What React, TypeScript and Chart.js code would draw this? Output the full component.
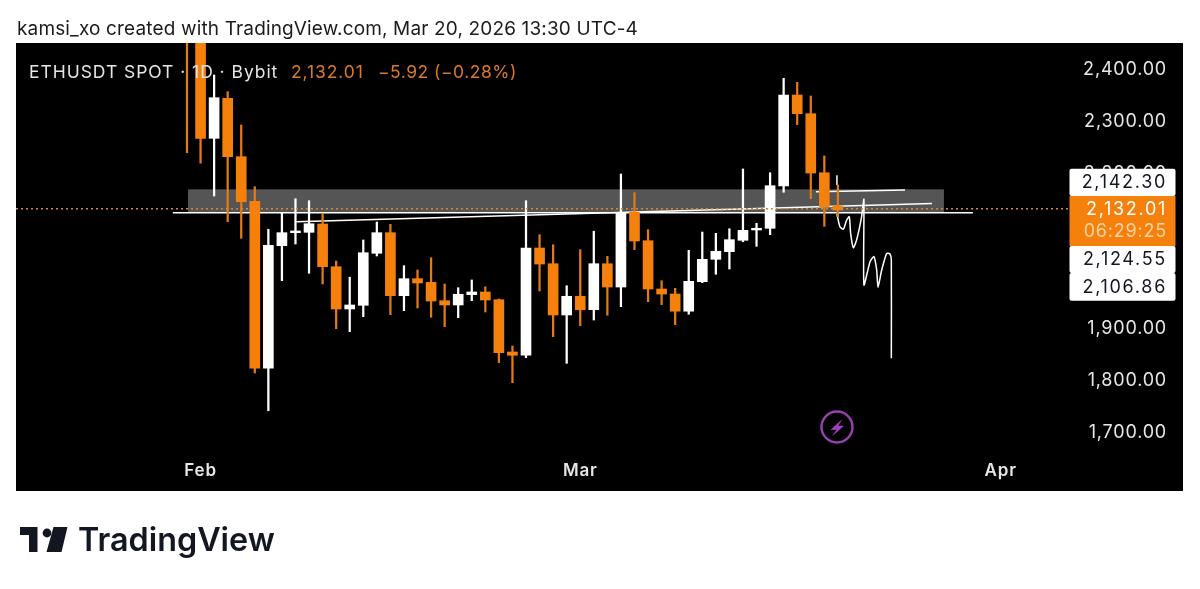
import React, { useEffect, useRef } from "react";
import { Chart, registerables } from "chart.js";

Chart.register(...registerables);

const dates = ["Jan 31","Feb 1","Feb 2","Feb 3","Feb 4","Feb 5","Feb 6","Feb 7","Feb 8","Feb 9","Feb 10","Feb 11","Feb 12","Feb 13","Feb 14","Feb 15","Feb 16","Feb 17","Feb 18","Feb 19","Feb 20","Feb 21","Feb 22","Feb 23","Feb 24","Feb 25","Feb 26","Feb 27","Feb 28","Mar 1","Mar 2","Mar 3","Mar 4","Mar 5","Mar 6","Mar 7","Mar 8","Mar 9","Mar 10","Mar 11","Mar 12","Mar 13","Mar 14","Mar 15","Mar 16","Mar 17","Mar 18","Mar 19","Mar 20"];
const opens = [2560,2480,2268.1,2345.3,2232.6,2146.5,1824.1,2060.8,2085.9,2086.6,2102.7,2020.2,1938.6,1945.7,2046.1,2085.9,1964.3,1997.1,1990.1,1954.6,1946.3,1966.2,1971.4,1956.5,1855.6,1849.2,2056.3,2026,1927,1963.1,1937.2,2026,1981,2125.2,2070.4,1977.2,1967.5,1934.3,1991.3,2034.5,2049.3,2071.2,2091.1,2094.4,2176,2351.7,2315.6,2201.7,2137.4];
const highs = [2600,2500,2390.3,2358.1,2293.8,2174.7,2092.4,2125.2,2151.5,2147.6,2123.3,2031.2,2000,2071.8,2106.5,2102.1,2022.2,2013.9,2037.6,1986.8,1979.7,1994.6,1981.6,1958,1867.1,2147.6,2082,2062.7,1983.5,2053.1,2088.6,2040.3,2199.2,2163.1,2091.7,1993.2,1978.5,2051.9,2087.2,2084.7,2093.6,2208.9,2104,2201.7,2384,2376.2,2349.8,2234,2178];
const lows = [2240.3,2220,2156.7,2107.1,2075.1,1815,1742.2,1993.2,2064,2007.5,1986.8,1900.6,1894.7,1923.7,2040.9,1927.6,1935.3,1940.5,1922.6,1904.4,1921.8,1954.6,1932.8,1834.9,1796.3,1844.6,1973.3,1885.1,1833.7,1906.3,1917.3,1926.4,1943,2053.1,1952.7,1946.9,1908.3,1928.4,1989.3,2005.6,2015.8,2068.5,2059.6,2082,2163.9,2294.4,2151.5,2098.2,2116.8];
const closes = [2480,2268.1,2346.5,2232.6,2145.7,1824.1,2061.6,2085.9,2089.2,2103.2,2020.2,1938.6,1946.3,2047.2,2085.9,1964.3,1997.1,1988.8,1954,1946.3,1967,1971.4,1955.9,1854.2,1849.2,2056.3,2025.4,1927,1963.1,1937.2,2026,1981,2125.2,2069.9,1977.2,1967.5,1934.3,1992,2034.5,2050,2072.4,2090.5,2094.4,2176.6,2351.7,2315.6,2201.1,2136.1,2129.7];

const priceTicks = [1700,1800,1900,2000,2100,2200,2300,2400];
const monthLabels = ["Feb","Mar","Apr"];
const monthDays = [0,28,59];

const lastPrice = 2132.01;
const supportLevel = 2124.55;
const trendDays = [7.04,53.94];
const trendPrices = [2106.86,2142.3];
const upperDays = [45.38,51.95];
const upperPrices = [2165,2168.3];
const stubDays = [46.93,46.93];
const stubPrices = [2196.7,2178];
const squiggleDays = [46.93,47.15,47.4,47.65,47.84,47.94,48.14,48.38,48.75,48.92,48.92,49.37,49.66,49.86,49.96,50.23,50.6,50.84,50.94,50.94];
const squigglePrices = [2122,2097.5,2092.4,2110.4,2116.8,2084.7,2056.9,2071.8,2116.8,2150.3,1985,2029.9,2039.6,2013.9,1980.4,2013.9,2046.1,2044.8,2033.2,1843.4];
const zoneDays = [-0.93,54.82];
const zonePrices = [2123.9,2169.6];

const tags = [
  { text: "2,142.30", top: 168.7, bottom: 196 },
  { text: "2,124.55", top: 246, bottom: 273 },
  { text: "2,106.86", top: 273, bottom: 300.7 },
];

const ORANGE = "#F6800C";
const WICK_ORANGE = "#E47A16";
const FONT = "Inter, 'Noto Sans', sans-serif";

const paneplugin = {
  id: "pane",
  beforeDraw(chart: any) {
    const { ctx, chartArea: a } = chart;
    ctx.save();
    ctx.fillStyle = "#000";
    ctx.fillRect(a.left, a.top, a.right - a.left, a.bottom - a.top);
    ctx.restore();
    ctx.letterSpacing = "0.8px";
  },
  beforeDatasetsDraw(chart: any) {
    const { ctx, scales } = chart;
    const x0 = scales.x.getPixelForValue(zoneDays[0]);
    const x1 = scales.x.getPixelForValue(zoneDays[1]);
    const y0 = scales.y.getPixelForValue(zonePrices[1]);
    const y1 = scales.y.getPixelForValue(zonePrices[0]);
    ctx.save();
    ctx.fillStyle = "#555555";
    ctx.fillRect(x0, y0, x1 - x0, y1 - y0);
    ctx.restore();
  },
  afterDraw(chart: any) {
    const { ctx } = chart;
    ctx.save();
    // legend line
    ctx.textBaseline = "middle";
    ctx.textAlign = "left";
    ctx.letterSpacing = "0.95px";
    ctx.font = `400 17.5px ${FONT}`;
    ctx.fillStyle = "#E6E6E6";
    ctx.fillText("ETHUSDT SPOT · 1D · Bybit", 29, 72.5);
    ctx.fillStyle = "#DB7A2A";
    ctx.letterSpacing = "0.9px";
    ctx.fillText("2,132.01", 291, 72.5);
    ctx.letterSpacing = "0.5px";
    ctx.fillText("−5.92 (−0.28%)", 378, 72.5);

    // price tags
    const left = 1069.5, w = 106;
    ctx.letterSpacing = "1.7px";
    ctx.font = `400 18px ${FONT}`;
    ctx.textAlign = "right";
    for (const t of tags) {
      ctx.fillStyle = "#fff";
      ctx.beginPath();
      ctx.roundRect(left, t.top, w, t.bottom - t.top, 2);
      ctx.fill();
      ctx.fillStyle = "#131722";
      ctx.fillText(t.text, 1167, (t.top + t.bottom) / 2 + 0.5);
    }
    ctx.fillStyle = ORANGE;
    ctx.fillRect(left, 196, w, 50);
    ctx.fillStyle = "#FFFFFF";
    ctx.fillText("2,132.01", 1167, 209.5);
    ctx.fillStyle = "#FFD3A3";
    ctx.letterSpacing = "0.8px";
    ctx.fillText("06:29:25", 1167, 232);

    // replay badge
    const cx = 837, cy = 427;
    ctx.strokeStyle = "#9A3FB0";
    ctx.lineWidth = 2.4;
    ctx.beginPath();
    ctx.arc(cx, cy, 15.5, 0, Math.PI * 2);
    ctx.stroke();
    ctx.fillStyle = "#A63EC4";
    ctx.beginPath();
    const bolt = [[5.5,-8],[-6.5,2.7],[-0.5,2.7],[-5,9.5],[7,-1.2],[1.2,-1.2]];
    bolt.forEach(([dx, dy], i) => (i ? ctx.lineTo(cx + dx, cy + dy) : ctx.moveTo(cx + dx, cy + dy)));
    ctx.closePath();
    ctx.fill();
    ctx.restore();
    ctx.letterSpacing = "0px";
  },
};

const zip = (xs: number[], ys: number[]) => xs.map((x, i) => ({ x, y: ys[i] }));
const lineDs = (data: any[], extra: any = {}) => ({
  type: "line",
  data,
  borderColor: "#FFFFFF",
  borderWidth: 1.5,
  pointRadius: 0,
  order: 3,
  ...extra,
});

export default function App() {
  const ref = useRef<HTMLCanvasElement>(null);
  useEffect(() => {
    const colours = closes.map((c, i) => (c < opens[i] ? ORANGE : "#FFFFFF"));
    const wickColours = closes.map((c, i) => (c < opens[i] ? WICK_ORANGE : "#FFFFFF"));
    const chart = new Chart(ref.current as HTMLCanvasElement, {
      type: "bar",
      data: {
        datasets: [
          lineDs(zip([-13.61, 64.04], [lastPrice, lastPrice]), { borderColor: "#D8843C", borderWidth: 1.4, borderDash: [2, 3], order: 0 }),
          {
            label: "body",
            data: dates.map((_, i) => ({ x: i - 1, y: [opens[i], closes[i]] })),
            backgroundColor: colours,
            barThickness: 10,
            grouped: false,
            order: 1,
          },
          {
            label: "wick",
            data: dates.map((_, i) => ({ x: i - 1, y: [lows[i], highs[i]] })),
            backgroundColor: wickColours,
            barThickness: 1.6,
            grouped: false,
            order: 2,
          },
          lineDs(zip([-2.04, 56.96], [supportLevel, supportLevel])),
          lineDs(zip(trendDays, trendPrices)),
          lineDs(zip(upperDays, upperPrices)),
          lineDs(zip(stubDays, stubPrices)),
          lineDs(zip(squiggleDays, squigglePrices), { tension: 0.2 }),
        ] as any,
      },
      options: {
        animation: false,
        responsive: false,
        layout: { padding: { left: 16, top: 43, right: 17, bottom: 98 } },
        plugins: { legend: { display: false }, tooltip: { enabled: false } },
        scales: {
          x: {
            type: "linear",
            min: -13.61,
            max: 72.45,
            offset: false,
            grid: { display: false, drawTicks: false },
            border: { display: false },
            afterBuildTicks: (s: any) => { s.ticks = monthDays.map((value) => ({ value })); },
            afterFit: (s: any) => { s.height = 0; },
            ticks: {
              mirror: true,
              autoSkip: false,
              maxRotation: 0,
              padding: 10,
              color: "#E6E6E6",
              font: { family: "Inter", size: 17, weight: "600" },
              callback: (v: any) => monthLabels[monthDays.indexOf(v)] ?? "",
            },
          },
          y: {
            position: "right",
            min: 1587.2,
            max: 2452.1,
            grid: { display: false, drawTicks: false },
            border: { display: false },
            afterBuildTicks: (s: any) => { s.ticks = priceTicks.map((value) => ({ value })); },
            afterFit: (s: any) => { s.width = 0; },
            ticks: {
              mirror: true,
              padding: -16,
              color: "#E6E6E6",
              font: { family: "Inter", size: 18 },
              callback: (v: any) => Number(v).toLocaleString("en-US", { minimumFractionDigits: 2, maximumFractionDigits: 2 }),
            },
          },
        },
      } as any,
      plugins: [paneplugin],
    });
    return () => chart.destroy();
  }, []);

  return (
    <div style={{ position: "absolute", left: 0, top: 0, width: 1200, height: 589, background: "#fff", overflow: "hidden" }}>
      <canvas ref={ref} width={1200} height={589} style={{ display: "block" }} />
      <div style={{ position: "absolute", left: 17, top: 18, fontFamily: FONT, fontSize: 19, letterSpacing: "0.15px", lineHeight: "22px", color: "#1c1c1c", whiteSpace: "nowrap" }}>
        kamsi_xo created with TradingView.com, Mar 20, 2026 13:30 UTC-4
      </div>
      <svg style={{ position: "absolute", left: 0, top: 520 }} width={80} height={40} viewBox="0 0 80 40">
        <path d="M20 7H37.5V32H29V15H20Z" fill="#131722" />
        <circle cx="47" cy="13" r="4.4" fill="#131722" />
        <path d="M53.5 7H67.5L61.5 32H46.5Z" fill="#131722" />
      </svg>
      <div style={{ position: "absolute", left: 78, top: 520, fontFamily: FONT, fontWeight: 600, fontSize: 32.3, lineHeight: "40px", color: "#131722", whiteSpace: "nowrap" }}>
        TradingView
      </div>
    </div>
  );
}
